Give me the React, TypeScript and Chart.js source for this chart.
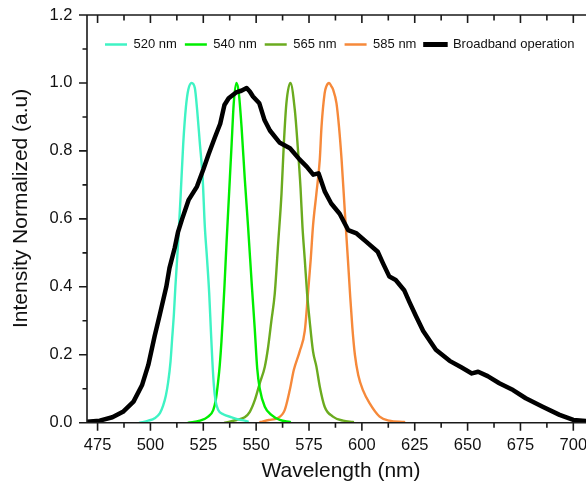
import React, { useEffect, useRef } from "react";
import { Chart, registerables } from "chart.js";

Chart.register(...registerables);

const FONT = "'Liberation Sans', Arial, Helvetica, sans-serif";

const seriesNames = ["520 nm", "540 nm", "565 nm", "585 nm", "Broadband operation"];
const seriesColors = ["#3ff3c4", "#00ee00", "#6bab1f", "#f6893a", "#000000"];

const wl520 = [495, 499, 502, 504.5, 506, 507.3, 508.4, 509.5, 510.3, 511.1, 511.8, 513.1, 514.3, 515.5, 516.8, 517.9, 519.5, 521.0, 522.1, 523.4, 524.7, 525.7, 526.8, 527.8, 528.6, 529.3, 530.0, 530.8, 532.0, 534.4, 538.4, 541.5, 544.6, 546];
const int520 = [0.0, 0.006, 0.013, 0.028, 0.05, 0.08, 0.12, 0.18, 0.25, 0.32, 0.40, 0.53, 0.67, 0.82, 0.93, 0.98, 1.0, 0.985, 0.92, 0.82, 0.72, 0.58, 0.48, 0.38, 0.27, 0.18, 0.11, 0.065, 0.038, 0.025, 0.016, 0.010, 0.006, 0.004];

const wl540 = [518, 523.4, 527.3, 529.7, 530.9, 532, 532.8, 533.6, 534.4, 535, 536, 537.2, 538.4, 539.4, 540.7, 541.8, 543.1, 544.6, 546.2, 548, 549.3, 550.5, 551.7, 554.1, 557.2, 561.2, 566];
const int540 = [0.0, 0.006, 0.018, 0.037, 0.067, 0.12, 0.17, 0.24, 0.33, 0.40, 0.53, 0.675, 0.82, 0.94, 1.0, 0.97, 0.87, 0.72, 0.575, 0.40, 0.28, 0.16, 0.10, 0.047, 0.023, 0.008, 0.002];

const wl565 = [535.2, 540.7, 544.6, 547.0, 549.4, 551.7, 554.1, 555.6, 557.2, 558.8, 560.4, 562.0, 563.1, 564.3, 566.2, 568.3, 569.7, 571.0, 571.9, 573.0, 574.1, 575.3, 576.9, 578.5, 580.1, 582.4, 586.3, 591.1, 595.8];
const int565 = [0.0, 0.008, 0.016, 0.032, 0.067, 0.116, 0.165, 0.22, 0.30, 0.38, 0.527, 0.675, 0.822, 0.94, 1.0, 0.92, 0.81, 0.69, 0.577, 0.48, 0.38, 0.30, 0.21, 0.165, 0.106, 0.047, 0.018, 0.006, 0.002];

const wl585 = [552, 556, 560, 563.5, 565.9, 567.8, 570.6, 573, 574.5, 575.8, 576.9, 578.5, 580.1, 580.9, 582.4, 583.2, 584.5, 585.6, 586.4, 588, 589.2, 590.4, 591.9, 593.4, 594.5, 595.5, 596.7, 598.3, 600.5, 603.7, 608.4, 613, 620];
const int585 = [0.002, 0.008, 0.013, 0.037, 0.096, 0.155, 0.21, 0.27, 0.38, 0.48, 0.58, 0.675, 0.775, 0.87, 0.97, 0.99, 1.0, 0.99, 0.98, 0.94, 0.87, 0.775, 0.625, 0.48, 0.37, 0.28, 0.2, 0.14, 0.096, 0.057, 0.018, 0.006, 0.002];

const wlBroad = [470, 476, 482, 487, 492, 496, 499, 502, 504.5, 507.5, 509, 511.5, 513, 515, 518, 522, 525, 527.5, 530.5, 533, 535, 537, 540.5, 543, 545.5, 547, 548.5, 551.5, 554, 556.5, 561, 566, 570.5, 574, 577, 579.5, 582.5, 585.5, 589.5, 593.5, 597.5, 602, 607.5, 610, 613, 616, 620, 622.5, 625.5, 629, 635, 641.5, 647, 652, 655, 659.5, 665, 671.5, 677.5, 685.5, 693.5, 700, 706];
const intBroad = [0.003, 0.006, 0.016, 0.032, 0.062, 0.11, 0.17, 0.255, 0.32, 0.40, 0.455, 0.515, 0.56, 0.60, 0.655, 0.695, 0.745, 0.79, 0.84, 0.88, 0.935, 0.955, 0.972, 0.977, 0.985, 0.975, 0.96, 0.94, 0.89, 0.86, 0.825, 0.808, 0.775, 0.753, 0.73, 0.734, 0.68, 0.645, 0.615, 0.567, 0.557, 0.533, 0.503, 0.469, 0.43, 0.42, 0.39, 0.355, 0.315, 0.27, 0.215, 0.182, 0.163, 0.145, 0.15, 0.137, 0.116, 0.096, 0.072, 0.047, 0.023, 0.008, 0.005];

const xTicks = [475, 500, 525, 550, 575, 600, 625, 650, 675, 700];
const xTickLabels = ["475", "500", "525", "550", "575", "600", "625", "650", "675", "700"];
const yTicks = [0, 0.2, 0.4, 0.6, 0.8, 1.0, 1.2];
const yTickLabels = ["0.0", "0.2", "0.4", "0.6", "0.8", "1.0", "1.2"];
const xRange = [470, 706];
const yRange = [0, 1.2];
const xTitle = "Wavelength (nm)";
const yTitle = "Intensity Normalized (a.u)";

const pairs = (xs: number[], ys: number[]) => xs.map((x, i) => ({ x, y: ys[i] }));

const seriesData = [
  pairs(wl520, int520),
  pairs(wl540, int540),
  pairs(wl565, int565),
  pairs(wl585, int585),
  pairs(wlBroad, intBroad),
];

const AXIS_COLOR = "#1a1a1a";

const framePlugin: any = {
  id: "frame",
  afterInit(chart: any) {
    const lg = chart.legend;
    if (lg && !lg._patched) {
      const origFit = lg.fit;
      lg.fit = function () {
        origFit.call(this);
        this.height = 0;
      };
      lg._patched = true;
    }
  },
  afterLayout(chart: any) {
    const lg = chart.legend;
    if (lg) {
      lg.left = 97;
      lg.right = 720;
      lg.top = 30;
      lg.bottom = 62;
      lg.width = lg.right - lg.left;
      lg.height = lg.bottom - lg.top;
    }
    const ys = chart.scales.y;
    if (ys && !ys._wrapped) {
      const orig = ys.drawTitle;
      ys.drawTitle = function (...args: any[]) {
        const c = this.ctx;
        c.save();
        c.translate(0, -10.5);
        orig.apply(this, args);
        c.restore();
      };
      ys._wrapped = true;
    }
    const xs = chart.scales.x;
    if (xs && !xs._wrapped) {
      const orig = xs.drawTitle;
      xs.drawTitle = function (...args: any[]) {
        const c = this.ctx;
        c.save();
        c.translate(4.5, 0);
        orig.apply(this, args);
        c.restore();
      };
      xs._wrapped = true;
    }
  },
  afterDraw(chart: any) {
    const { ctx, chartArea: a, scales } = chart;
    const xs = scales.x;
    const ys = scales.y;
    ctx.save();
    ctx.strokeStyle = AXIS_COLOR;
    ctx.lineWidth = 1.6;
    ctx.lineCap = "butt";
    ctx.beginPath();
    ctx.moveTo(a.left, a.top - 0.8);
    ctx.lineTo(a.left, a.bottom + 0.8);
    ctx.moveTo(a.left, a.bottom);
    ctx.lineTo(a.right, a.bottom);
    ctx.moveTo(a.left, a.top);
    ctx.lineTo(a.right, a.top);
    const seg = (x1: number, y1: number, x2: number, y2: number) => {
      ctx.moveTo(x1, y1);
      ctx.lineTo(x2, y2);
    };
    const xStep = xTicks[1] - xTicks[0];
    const yStep = yTicks[1] - yTicks[0];
    xTicks.forEach((v) => {
      const px = xs.getPixelForValue(v);
      seg(px, a.bottom, px, a.bottom + 8);
      seg(px, a.top, px, a.top + 8);
    });
    for (let v = xTicks[0] - xStep / 2; v <= xRange[1]; v += xStep) {
      if (v <= xRange[0]) continue;
      const px = xs.getPixelForValue(v);
      seg(px, a.bottom, px, a.bottom + 5);
      seg(px, a.top, px, a.top + 5.5);
    }
    yTicks.forEach((v) => {
      const py = ys.getPixelForValue(v);
      seg(a.left - 8, py, a.left, py);
    });
    for (let v = yTicks[0] + yStep / 2; v < yRange[1]; v += yStep) {
      const py = ys.getPixelForValue(v);
      seg(a.left - 4.5, py, a.left, py);
    }
    ctx.stroke();
    ctx.restore();
  },
};

export default function App() {
  const ref = useRef<HTMLCanvasElement | null>(null);

  useEffect(() => {
    if (!ref.current) return;
    const datasets = seriesNames.map((name, i) => {
      const isBroad = i === seriesNames.length - 1;
      return {
        label: name,
        data: seriesData[i],
        borderColor: seriesColors[i],
        backgroundColor: seriesColors[i],
        borderWidth: isBroad ? 4.5 : 2.4,
        pointRadius: 0,
        pointHoverRadius: 0,
        fill: false,
        tension: isBroad ? 0 : 0.25,
        cubicInterpolationMode: isBroad ? "default" : "monotone",
        borderJoinStyle: "round",
        borderCapStyle: "round",
        order: isBroad ? -1 : i,
      };
    });

    const chart = new Chart(ref.current, {
      type: "line",
      data: { datasets } as any,
      plugins: [framePlugin],
      options: {
        animation: false,
        responsive: false,
        maintainAspectRatio: false,
        events: [],
        layout: { padding: { top: 15, left: 0, right: 0, bottom: 0 } },
        plugins: {
          tooltip: { enabled: false },
          title: { display: false },
          legend: {
            display: true,
            position: "top",
            align: "start",
            labels: {
              boxWidth: 22,
              boxHeight: 2.5,
              padding: 8,
              color: "#111111",
              font: { family: FONT, size: 13 },
              generateLabels: (ch: any) =>
                ch.data.datasets.map((ds: any, i: number) => ({
                  text: ds.label,
                  fillStyle: ds.borderColor,
                  strokeStyle: ds.borderColor,
                  lineWidth: i === ch.data.datasets.length - 1 ? 2.5 : 0,
                  hidden: false,
                  datasetIndex: i,
                  fontColor: "#111111",
                })),
            },
          },
        },
        scales: {
          x: {
            type: "linear",
            position: "bottom",
            min: xRange[0],
            max: xRange[1],
            grid: { display: false, drawTicks: false },
            border: { display: false },
            afterBuildTicks: (s: any) => {
              s.ticks = xTicks.map((v) => ({ value: v }));
            },
            afterFit: (s: any) => {
              s.height = 484 - 422.7;
              s.paddingLeft = 0;
              s.paddingRight = 0;
            },
            ticks: {
              padding: 13.2,
              color: "#111111",
              maxRotation: 0,
              autoSkip: false,
              font: { family: FONT, size: 16.5 },
              callback: (v: any) => {
                const idx = xTicks.indexOf(Number(v));
                return idx >= 0 ? xTickLabels[idx] : "";
              },
            },
            title: {
              display: true,
              text: xTitle,
              color: "#111111",
              font: { family: FONT, size: 21 },
              padding: { top: 0, bottom: 0 },
            },
          },
          y: {
            type: "linear",
            position: "left",
            min: yRange[0],
            max: yRange[1],
            grid: { display: false, drawTicks: false },
            border: { display: false },
            afterBuildTicks: (s: any) => {
              s.ticks = yTicks.map((v) => ({ value: v }));
            },
            afterFit: (s: any) => {
              s.width = 87;
              s.paddingTop = 0;
              s.paddingBottom = 0;
            },
            ticks: {
              padding: 14.6,
              color: "#111111",
              autoSkip: false,
              font: { family: FONT, size: 16.5 },
              callback: (v: any) => {
                const idx = yTicks.findIndex((t) => Math.abs(t - Number(v)) < 1e-9);
                return idx >= 0 ? yTickLabels[idx] : "";
              },
            },
            title: {
              display: true,
              text: yTitle,
              color: "#111111",
              font: { family: FONT, size: 21 },
              padding: { top: 9, bottom: 0 },
            },
          },
        },
      } as any,
    });
    return () => chart.destroy();
  }, []);

  return (
    <div style={{ position: "fixed", left: 0, top: 0, width: 586, height: 484, background: "#ffffff" }}>
      <canvas ref={ref} width={586} height={484} style={{ display: "block", width: 586, height: 484 }} />
    </div>
  );
}
